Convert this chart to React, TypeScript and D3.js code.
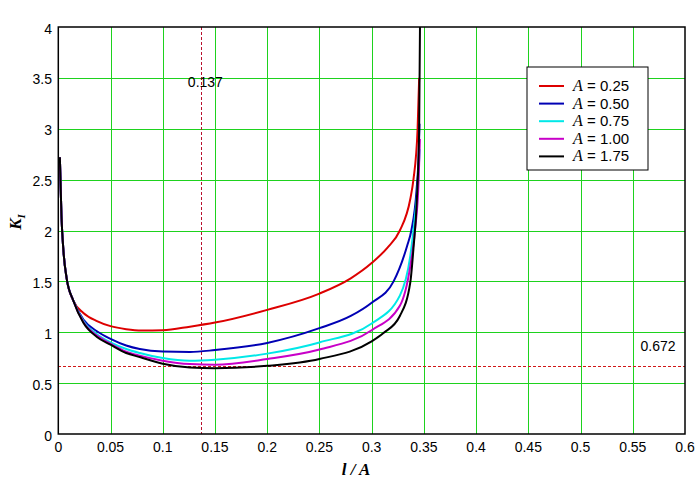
import React from "react";
import * as d3 from "d3";

const xTicks = [0, 0.05, 0.1, 0.15, 0.2, 0.25, 0.3, 0.35, 0.4, 0.45, 0.5, 0.55, 0.6];
const yTicks = [0, 0.5, 1, 1.5, 2, 2.5, 3, 3.5, 4];

const seriesNames = ["0.25", "0.50", "0.75", "1.00", "1.75"];
const seriesColors = ["#dd0000", "#0000b4", "#00e8e8", "#c800c8", "#000000"];

const startPts: [number, number][] = [
  [0.0015, 2.72], [0.003, 2.15], [0.005, 1.79], [0.008, 1.53], [0.0144, 1.31],
];

const redPts: [number, number][] = [
  [0.024, 1.19], [0.037, 1.11], [0.05, 1.06], [0.065, 1.03], [0.08, 1.017],
  [0.1, 1.02], [0.126, 1.055], [0.15, 1.095], [0.2, 1.22], [0.25, 1.38], [0.28, 1.53],
  [0.3, 1.68], [0.315, 1.83], [0.327, 2.0], [0.337, 2.31], [0.34, 2.5], [0.344, 3.0], [0.3455, 3.5],
];
const bluePts: [number, number][] = [
  [0.024, 1.125], [0.037, 1.01], [0.05, 0.935], [0.065, 0.87], [0.078, 0.835],
  [0.1, 0.81], [0.126, 0.806], [0.15, 0.825], [0.2, 0.895], [0.25, 1.04], [0.28, 1.16],
  [0.3, 1.29], [0.321, 1.5], [0.334, 1.85], [0.338, 2.0], [0.343, 2.4], [0.3452, 2.8], [0.3458, 3.05],
];
const cyanPts: [number, number][] = [
  [0.024, 1.11], [0.037, 0.98], [0.05, 0.9], [0.065, 0.835], [0.078, 0.796],
  [0.1, 0.746], [0.126, 0.72], [0.15, 0.73], [0.2, 0.79], [0.25, 0.9], [0.3, 1.086],
  [0.327, 1.36], [0.337, 1.75], [0.34, 2.0], [0.3445, 2.5], [0.346, 2.8],
];
const magentaPts: [number, number][] = [
  [0.024, 1.1], [0.037, 0.967], [0.05, 0.888], [0.065, 0.81], [0.078, 0.77],
  [0.1, 0.72], [0.126, 0.687], [0.15, 0.68], [0.2, 0.737], [0.25, 0.83], [0.3, 1.02],
  [0.327, 1.26], [0.337, 1.65], [0.3415, 2.0], [0.345, 2.5], [0.3462, 2.9],
];
const blackPts: [number, number][] = [
  [0.024, 1.093], [0.037, 0.954], [0.05, 0.878], [0.065, 0.796], [0.078, 0.756],
  [0.1, 0.69], [0.126, 0.653], [0.15, 0.647], [0.2, 0.67], [0.25, 0.737], [0.3, 0.91],
  [0.311, 0.99], [0.327, 1.16], [0.337, 1.49], [0.34, 1.82], [0.3433, 2.31], [0.3455, 3.0], [0.3465, 4.3],
];

const seriesPts = [redPts, bluePts, cyanPts, magentaPts, blackPts];

const markX = 0.137;
const markY = 0.672;

const W = 697, H = 478;
const L = 58.3, R = 685, T = 27, B = 434;

const snap = (v: number) => Math.round(v) + 0.5;

export default function App() {
  const x = d3.scaleLinear().domain([0, 0.6]).range([L, R]);
  const y = d3.scaleLinear().domain([0, 4]).range([B, T]);
  const line = d3
    .line<[number, number]>()
    .x((d) => x(d[0]))
    .y((d) => y(d[1]))
    .curve(d3.curveMonotoneX);
  const grid = "#1ed21e";
  const sans = "Arial, 'Liberation Sans', sans-serif";
  const serif = "'Times New Roman', 'Liberation Serif', serif";
  const legendX = 527, legendY = 67;
  return (
    <svg
      width={W}
      height={H}
      style={{ position: "absolute", left: 0, top: 0, background: "#fff" }}
    >
      <defs>
        <clipPath id="plot">
          <rect x={L} y={T} width={R - L} height={B - T} />
        </clipPath>
      </defs>
      <rect x={0} y={0} width={W} height={H} fill="#fff" />
      {xTicks.slice(1, -1).map((t) => (
        <line key={"gx" + t} x1={snap(x(t))} x2={snap(x(t))} y1={T} y2={B} stroke={grid} strokeWidth={1} shapeRendering="crispEdges" />
      ))}
      {yTicks.slice(1, -1).map((t) => (
        <line key={"gy" + t} x1={L} x2={R} y1={snap(y(t))} y2={snap(y(t))} stroke={grid} strokeWidth={1} shapeRendering="crispEdges" />
      ))}
      <line x1={snap(x(markX))} x2={snap(x(markX))} y1={T} y2={B} stroke="#b8102e" strokeWidth={1} strokeDasharray="3,2" shapeRendering="crispEdges" />
      <line x1={L} x2={R} y1={snap(y(markY))} y2={snap(y(markY))} stroke="#d01818" strokeWidth={1} strokeDasharray="3,2" shapeRendering="crispEdges" />
      <g clipPath="url(#plot)">
        {seriesPts.map((pts, i) => (
          <path
            key={i}
            d={line([...startPts, ...pts]) || ""}
            fill="none"
            stroke={seriesColors[i]}
            strokeWidth={2}
          />
        ))}
      </g>
      <rect x={L} y={T} width={R - L} height={B - T} fill="none" stroke="#000" strokeWidth={1.5} />
      {yTicks.map((t) => (
        <text key={"ty" + t} x={52} y={y(t) + 6.5} textAnchor="end" fontFamily={sans} fontSize={14}>
          {String(t)}
        </text>
      ))}
      {xTicks.map((t) => (
        <text key={"tx" + t} x={x(t)} y={452} textAnchor="middle" fontFamily={sans} fontSize={14}>
          {String(t)}
        </text>
      ))}
      <text x={x(markX) + 4} y={87} textAnchor="middle" fontFamily={sans} fontSize={14}>
        {String(markX)}
      </text>
      <text x={658} y={351} textAnchor="middle" fontFamily={sans} fontSize={14}>
        {String(markY)}
      </text>
      <text x={356} y={475} textAnchor="middle" fontFamily={serif} fontSize={17} fontWeight="bold" fontStyle="italic">
        l / A
      </text>
      <text transform="translate(21,222) rotate(-90)" textAnchor="middle" fontFamily={serif} fontSize={17} fontWeight="bold" fontStyle="italic">
        K<tspan fontSize={11} dy={4}>I</tspan>
      </text>
      <rect x={legendX} y={legendY} width={121} height={103} fill="#fff" stroke="#000" strokeWidth={1} />
      {seriesNames.map((n, i) => {
        const yy = legendY + 19 + i * 17.6;
        return (
          <g key={"lg" + i}>
            <line x1={539} x2={564} y1={yy} y2={yy} stroke={seriesColors[i]} strokeWidth={2} />
            <text x={573} y={yy + 5} fontSize={16}>
              <tspan fontFamily={serif} fontStyle="italic">A</tspan>
              <tspan fontFamily={sans} fontSize={15}>{" = " + n}</tspan>
            </text>
          </g>
        );
      })}
    </svg>
  );
}
